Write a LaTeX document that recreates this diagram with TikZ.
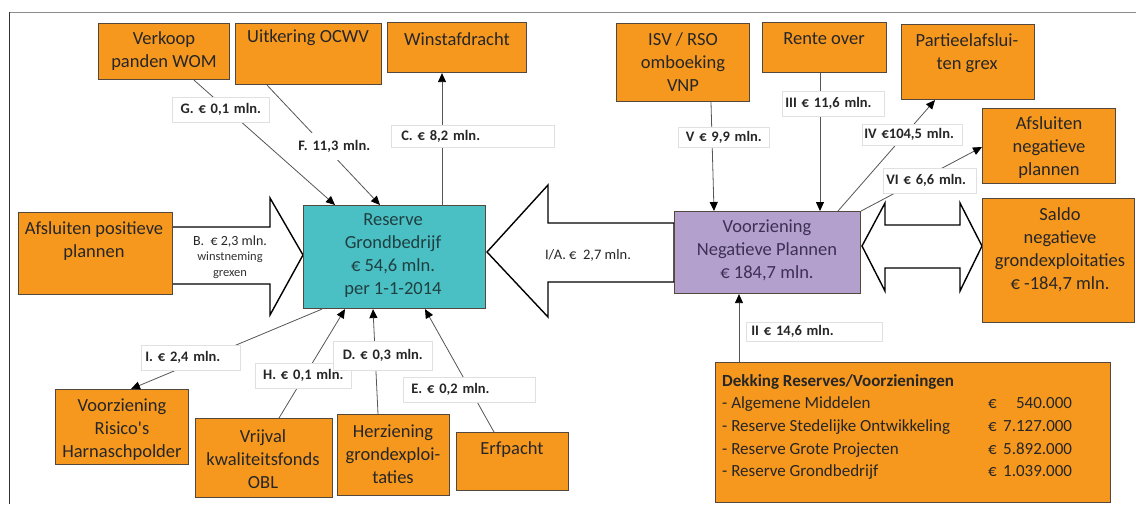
\documentclass[tikz,border=0pt]{standalone}
\usepackage{fontspec}
\setmainfont{Carlito}
\usetikzlibrary{arrows.meta}
\definecolor{orng}{HTML}{F7981E}
\definecolor{tealbox}{HTML}{4BC0C4}
\definecolor{purp}{HTML}{B4A0CC}
\definecolor{bordr}{HTML}{54483E}
\definecolor{connc}{HTML}{555555}
\definecolor{tealtxt}{HTML}{1F3F40}
\definecolor{purptxt}{HTML}{3D2F55}
\begin{document}
\begin{tikzpicture}[x=1pt,y=-1pt,
  box/.style={draw=bordr, line width=1.1pt, anchor=north west, inner sep=0pt},
  obox/.style={box, fill=orng},
  btxt/.style={font=\fontsize{18.5}{23}\selectfont, align=center, text=black!85, inner sep=0pt},
  lbl/.style={fill=white, draw=black!12, line width=0.6pt, font=\fontsize{14.5}{16}\selectfont\bfseries, text=black!85, inner ysep=0pt, anchor=north west},
  cn/.style={draw=connc, line width=0.8pt, -{Triangle[length=9pt,width=8pt,color=black]}},
  barrow/.style={draw=black, line width=1.4pt, fill=white, line join=miter}
]
\useasboundingbox (0,0) rectangle (1136,504);
% frame
\draw[black!45, line width=0.8pt] (9,12) -- (1136,12);
\draw[black!80, line width=1pt] (9,12) -- (9,504);

% block arrows
\draw[barrow] (172,227) -- (270,227) -- (270,198) -- (303,255) -- (270,315) -- (270,284) -- (172,284) -- cycle;
\draw[barrow] (674,223) -- (548,223) -- (548,185) -- (487,252) -- (548,317) -- (548,282) -- (674,282) -- cycle;
\draw[barrow] (862,246) -- (885,203) -- (885,225) -- (960,225) -- (960,203) -- (982,246) -- (960,291) -- (960,268) -- (885,268) -- (885,291) -- cycle;

% boxes
\node[obox, minimum width=131pt, minimum height=56pt] (verkoop) at (98,23) {};
\node[obox, minimum width=146pt, minimum height=61pt] (uitkering) at (235,23) {};
\node[obox, minimum width=139pt, minimum height=50pt] (winst) at (387,22) {};
\node[obox, minimum width=154pt, minimum height=82pt] (afspos) at (18,212) {};
\node[box, fill=tealbox, minimum width=182pt, minimum height=103pt] (reserve) at (303,205) {};
\node[obox, minimum width=133pt, minimum height=78pt] (isv) at (616,23) {};
\node[obox, minimum width=124pt, minimum height=50pt] (rente) at (762,22) {};
\node[obox, minimum width=133pt, minimum height=75pt] (partieel) at (901,24) {};
\node[obox, minimum width=133pt, minimum height=75pt] (afsneg) at (982,108) {};
\node[box, fill=purp, minimum width=186pt, minimum height=82pt] (voorz) at (674,211) {};
\node[obox, minimum width=152pt, minimum height=124pt] (saldo) at (982,198) {};
\node[obox, minimum width=395pt, minimum height=140pt] (dekking) at (715,362) {};
\node[obox, minimum width=133pt, minimum height=75pt] (risico) at (55,389) {};
\node[obox, minimum width=137pt, minimum height=79pt] (vrijval) at (195,418) {};
\node[obox, minimum width=112pt, minimum height=81pt] (herz) at (337,414) {};
\node[obox, minimum width=112pt, minimum height=58pt] (erfpacht) at (456,432) {};

% box texts
\node[btxt] (verkoopT) at (164,51) {Verkoop\\panden WOM};
\node[btxt] (uitkeringT) at (308,38) {Uitkering OCWV};
\node[btxt] (winstT) at (457,39) {Winstafdracht};
\node[btxt] (afsposT) at (94,241.5) {Afsluiten positieve\\plannen};
\node[btxt, text=tealtxt] (reserveT) at (393,256) {Reserve\\Grondbedrijf\\€ 54,6 mln.\\per 1-1-2014};
\node[btxt] (isvT) at (683,62) {ISV / RSO\\omboeking\\VNP};
\node[btxt] (renteT) at (824,39) {Rente over};
\node[btxt] (partieelT) at (967,53.5) {Partieelafslui-\\ten grex};
\node[btxt] (afsnegT) at (1049,148) {Afsluiten\\negatieve\\plannen};
\node[btxt, text=purptxt] (voorzT) at (767,250.5) {Voorziening\\Negatieve Plannen\\€ 184,7 mln.};
\node[btxt] (saldoT) at (1060,249.5) {Saldo\\negatieve\\grondexploitaties\\€ -184,7 mln.};
\node[btxt] (risicoT) at (122,429.5) {Voorziening\\Risico\textquotesingle s\\Harnaschpolder};
\node[btxt] (vrijvalT) at (263,459) {Vrijval\\kwaliteitsfonds\\OBL};
\node[btxt] (herzT) at (393,454.5) {Herziening\\grondexploi-\\taties};
\node[btxt] (erfpachtT) at (512,450) {Erfpacht};

\node[font=\fontsize{17}{22.7}\selectfont, text=black!85, inner sep=0pt, anchor=north west] (dekkingT) at (722,370)
 {\begin{tabular}{@{}p{266pt}@{}p{15pt}@{}r@{}}
  \multicolumn{3}{@{}l@{}}{\bfseries Dekking Reserves/Voorzieningen}\\
  - Algemene Middelen & € & 540.000\\
  - Reserve Stedelijke Ontwikkeling & € & 7.127.000\\
  - Reserve Grote Projecten & € & 5.892.000\\
  - Reserve Grondbedrijf & € & 1.039.000
  \end{tabular}};

% texts inside block arrows
\node[font=\fontsize{14}{16}\selectfont, text=black!85, inner sep=0pt] (bT) at (230,242) {B.\ \ € 2,3 mln.};
\node[font=\fontsize{12.5}{16}\selectfont, text=black!80, inner sep=0pt, align=center] (bT2) at (230,265) {winstneming\\grexen};
\node[font=\fontsize{14.5}{16}\selectfont, text=black!85, inner sep=0pt] (iaT) at (588,255) {I/A.\ €\ \ 2,7 mln.};

% connectors
\draw[cn] ([xshift=96pt]verkoop.south west) -- ([xshift=32pt]reserve.north west);
\draw[cn] ([xshift=32pt]uitkering.south west) -- ([xshift=77pt]reserve.north west);
\draw[cn] ([xshift=139pt]reserve.north west) -- ([xshift=55pt]winst.south west);
\draw[cn] ([xshift=19pt]reserve.south west) -- ([xshift=76pt]risico.north west);
\draw[cn] ([xshift=84pt]vrijval.north west) -- ([xshift=42pt]reserve.south west);
\draw[cn] ([xshift=41pt]herz.north west) -- ([xshift=70pt]reserve.south west);
\draw[cn] ([xshift=38pt]erfpacht.north west) -- ([xshift=122pt]reserve.south west);
\draw[cn] ([xshift=95pt]isv.south west) -- ([xshift=40pt]voorz.north west);
\draw[cn] ([xshift=58pt]rente.south west) -- ([xshift=146pt]voorz.north west);
\draw[cn] ([xshift=164pt]voorz.north west) -- ([xshift=34pt]partieel.south west);
\draw[cn] (voorz.north east) -- ([yshift=-39pt]afsneg.north west);
\draw[cn] ([xshift=24pt]dekking.north west) -- ([xshift=65pt]voorz.south west);

% connector labels
\node[lbl, minimum height=25pt, text width=89pt, inner xsep=4pt, align=center] (gL) at (172,97) {G. € 0,1 mln.};
\node[lbl, draw=none, minimum height=27pt, text width=72pt, inner xsep=2pt, align=center] (fL) at (296,133) {\mbox{F. 11,3 mln.}};
\node[lbl, minimum height=22pt, text width=143pt, inner xsep=10pt, align=left] (cL) at (391,125) {C. € 8,2 mln.};
\node[lbl, minimum height=25pt, text width=91pt, inner xsep=4pt, align=left] (iL) at (141,345) {I. € 2,4 mln.};
\node[lbl, minimum height=25pt, text width=88pt, inner xsep=4pt, align=center] (hL) at (255,363) {\mbox{H. € 0,1 mln.}};
\node[lbl, minimum height=29pt, text width=91pt, inner xsep=4pt, align=center] (dL) at (333,341) {\mbox{D. € 0,3 mln.}};
\node[lbl, minimum height=25pt, text width=116pt, inner xsep=8pt, align=left] (eL) at (403,377) {E. € 0,2 mln.};
\node[lbl, minimum height=20pt, text width=85pt, inner xsep=3pt, align=center] (vL) at (678,127) {\mbox{V € 9,9 mln.}};
\node[lbl, minimum height=25pt, text width=96pt, inner xsep=3pt, align=left] (iiiL) at (782,91) {\mbox{III € 11,6 mln.}};
\node[lbl, minimum height=21pt, text width=96pt, inner xsep=2pt, align=left] (ivL) at (862,124) {\mbox{IV €104,5 mln.}};
\node[lbl, minimum height=25pt, text width=87pt, inner xsep=3pt, align=left] (viL) at (883,168) {\mbox{VI € 6,6 mln.}};
\node[lbl, minimum height=19pt, text width=126pt, inner xsep=5pt, align=left] (iiL) at (746,322) {II € 14,6 mln.};
\end{tikzpicture}
\end{document}
